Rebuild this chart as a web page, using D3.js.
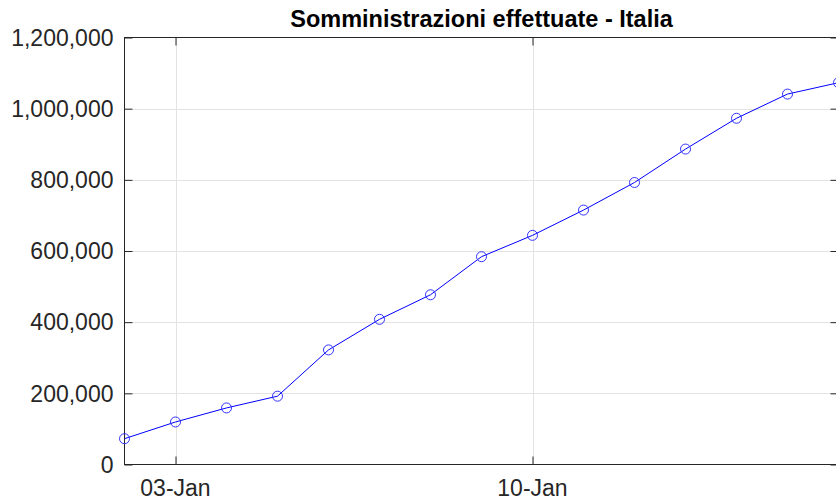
<!DOCTYPE html>
<html>
<head>
<meta charset="utf-8">
<script src="https://cdn.jsdelivr.net/npm/d3@7"></script>
<style>
  html, body { margin: 0; padding: 0; background: #fff; }
  svg { display: block; font-family: "Liberation Sans", Arial, sans-serif; }
</style>
</head>
<body>
<div id="chart"></div>
<script>
// daily cumulative doses, Italy
const dates = ["2021-01-02", "2021-01-03", "2021-01-04", "2021-01-05", "2021-01-06",
  "2021-01-07", "2021-01-08", "2021-01-09", "2021-01-10", "2021-01-11",
  "2021-01-12", "2021-01-13", "2021-01-14", "2021-01-15", "2021-01-16"];
const doses = [72500, 119500, 159000, 192000, 322000, 408000, 477000, 584000,
  644000, 715000, 792500, 886500, 973000, 1041000, 1073000];
const xTickDates = ["2021-01-03", "2021-01-10"];
const yTicks = [0, 200000, 400000, 600000, 800000, 1000000, 1200000];
const title = "Somministrazioni effettuate - Italia";

const W = 836, H = 504;
// plot box (right edge falls just outside the window)
const MARGIN = { TOP: 37.5, LEFT: 124.5, BOTTOM: 39.5 };
const RIGHT = 838.5;

const parse = d3.timeParse("%Y-%m-%d");
const data = dates.map((d, i) => ({ date: parse(d), value: doses[i] }));

const svg = d3.select("#chart").append("svg")
  .attr("width", W)
  .attr("height", H);

const x = d3.scaleTime()
  .domain([parse("2021-01-02"), parse("2021-01-16")])
  .range([MARGIN.LEFT, RIGHT]);

const y = d3.scaleLinear()
  .domain([0, 1200000])
  .range([H - MARGIN.BOTTOM, MARGIN.TOP]);

const axisCol = "#262626";
const fmt = d3.format(",");

// grid
svg.append("g").selectAll("line.gy")
  .data(yTicks.slice(1, -1))
  .join("line")
  .attr("x1", MARGIN.LEFT).attr("x2", RIGHT)
  .attr("y1", d => Math.round(y(d)) + 0.5).attr("y2", d => Math.round(y(d)) + 0.5)
  .attr("stroke", "#e3e3e3").attr("stroke-width", 1);

svg.append("g").selectAll("line.gx")
  .data(xTickDates.map(parse))
  .join("line")
  .attr("x1", d => Math.round(x(d)) + 0.5).attr("x2", d => Math.round(x(d)) + 0.5)
  .attr("y1", MARGIN.TOP).attr("y2", H - MARGIN.BOTTOM)
  .attr("stroke", "#e3e3e3").attr("stroke-width", 1);

// box
svg.append("rect")
  .attr("x", MARGIN.LEFT).attr("y", MARGIN.TOP)
  .attr("width", RIGHT - MARGIN.LEFT)
  .attr("height", H - MARGIN.BOTTOM - MARGIN.TOP)
  .attr("fill", "none").attr("stroke", axisCol).attr("stroke-width", 1);

// y axis (ticks pointing inward, labels outside)
const yAxis = svg.append("g")
  .attr("transform", `translate(${MARGIN.LEFT},0)`)
  .call(d3.axisRight(y).tickValues(yTicks).tickSize(8).tickFormat(""));
yAxis.select(".domain").remove();
yAxis.selectAll("line").attr("stroke", axisCol);

const yAxisR = svg.append("g")
  .attr("transform", `translate(${RIGHT},0)`)
  .call(d3.axisLeft(y).tickValues(yTicks).tickSize(8).tickFormat(""));
yAxisR.select(".domain").remove();
yAxisR.selectAll("line").attr("stroke", axisCol);

svg.append("g").selectAll("text")
  .data(yTicks)
  .join("text")
  .attr("x", MARGIN.LEFT - 11)
  .attr("y", d => y(d))
  .attr("dy", "0.36em")
  .attr("text-anchor", "end")
  .attr("font-size", 23)
  .attr("fill", axisCol)
  .text(d => fmt(d));

// x axis
const xAxis = svg.append("g")
  .attr("transform", `translate(0,${H - MARGIN.BOTTOM})`)
  .call(d3.axisTop(x).tickValues(xTickDates.map(parse)).tickSize(8).tickFormat(""));
xAxis.select(".domain").remove();
xAxis.selectAll("line").attr("stroke", axisCol);

const xAxisT = svg.append("g")
  .attr("transform", `translate(0,${MARGIN.TOP})`)
  .call(d3.axisBottom(x).tickValues(xTickDates.map(parse)).tickSize(8).tickFormat(""));
xAxisT.select(".domain").remove();
xAxisT.selectAll("line").attr("stroke", axisCol);

svg.append("g").selectAll("text")
  .data(xTickDates.map(parse))
  .join("text")
  .attr("x", d => x(d))
  .attr("y", H - MARGIN.BOTTOM + 31)
  .attr("text-anchor", "middle")
  .attr("font-size", 23)
  .attr("fill", axisCol)
  .text(d3.timeFormat("%d-%b"));

// series
const line = d3.line()
  .x(d => x(d.date))
  .y(d => y(d.value));

svg.append("path")
  .datum(data)
  .attr("fill", "none")
  .attr("stroke", "#0000ff")
  .attr("stroke-width", 1)
  .attr("d", line);

svg.append("g").selectAll("circle")
  .data(data)
  .join("circle")
  .attr("cx", d => x(d.date))
  .attr("cy", d => y(d.value))
  .attr("r", 5)
  .attr("fill", "none")
  .attr("stroke", "#3333ff")
  .attr("stroke-width", 1);

// title
svg.append("text")
  .attr("x", (MARGIN.LEFT + RIGHT) / 2)
  .attr("y", 27)
  .attr("text-anchor", "middle")
  .attr("font-size", 23.5)
  .attr("font-weight", "bold")
  .attr("fill", "#000")
  .text(title);
</script>
</body>
</html>
